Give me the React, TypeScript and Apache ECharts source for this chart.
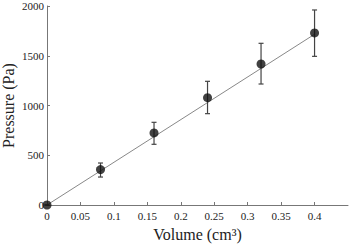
import React, { useEffect, useRef } from "react";
import * as echarts from "echarts";

const volumes = [0, 0.08, 0.16, 0.24, 0.32, 0.4];
const pressures = [0, 356, 724, 1079, 1417, 1729];
const errLow = [0, 281, 610, 918, 1216, 1494];
const errHigh = [0, 422, 831, 1243, 1625, 1960];
const fitX = [0, 0.4];
const fitY = [0, 1716];
const xTicksMax = 0.45;
const yTicksMax = 2000;

const FONT = "Liberation Serif";

export default function App() {
  const ref = useRef<HTMLDivElement>(null);
  useEffect(() => {
    if (!ref.current) return;
    const chart = echarts.init(ref.current, null, { renderer: "svg" });
    const axisLine = { lineStyle: { color: "#777", width: 1 } };
    chart.setOption({
      animation: false,
      backgroundColor: "#fff",
      grid: { left: 47, right: 2, top: 6, bottom: 40, containLabel: false, outerBoundsMode: "none" },
      xAxis: {
        type: "value",
        min: 0,
        max: xTicksMax,
        interval: 0.05,
        splitLine: { show: false },
        axisLine,
        axisTick: { inside: true, length: 3, lineStyle: { color: "#777" } },
        axisLabel: {
          fontFamily: FONT,
          fontSize: 11,
          color: "#222",
          margin: 5,
          showMaxLabel: false,
          formatter: (v: number) => (v > 0.44 ? "" : String(+v.toFixed(2))),
        },
        name: "Volume (cm³)",
        nameLocation: "middle",
        nameGap: 21,
        nameMoveOverlap: false,
        nameTextStyle: { fontFamily: FONT, fontSize: 16, color: "#222" },
      },
      yAxis: {
        type: "value",
        min: 0,
        max: yTicksMax,
        interval: 500,
        splitLine: { show: false },
        axisLine: { show: true, ...axisLine },
        axisTick: { show: true, inside: true, length: 3, lineStyle: { color: "#777" } },
        axisLabel: {
          fontFamily: FONT,
          fontSize: 11,
          color: "#222",
          margin: 3,
          formatter: (v: number) => String(v),
        },
        name: "Pressure (Pa)",
        nameLocation: "middle",
        nameGap: 31,
        nameMoveOverlap: false,
        nameTextStyle: { fontFamily: FONT, fontSize: 16, color: "#222", lineHeight: 16 },
      },
      series: [
        {
          type: "line",
          data: fitX.map((x, i) => [x, fitY[i]]),
          showSymbol: false,
          symbol: "none",
          lineStyle: { color: "#888", width: 1 },
          z: 1,
        },
        {
          type: "custom",
          data: volumes.map((x, i) => [x, errLow[i], errHigh[i]]),
          renderItem: (params: any, api: any) => {
            const x = api.value(0);
            const lo = api.coord([x, api.value(1)]);
            const hi = api.coord([x, api.value(2)]);
            const hw = 2.5;
            const style = { stroke: "#444", lineWidth: 1.2 };
            return {
              type: "group",
              children: [
                { type: "line", shape: { x1: lo[0], y1: lo[1], x2: hi[0], y2: hi[1] }, style },
                { type: "line", shape: { x1: lo[0] - hw, y1: lo[1], x2: lo[0] + hw, y2: lo[1] }, style },
                { type: "line", shape: { x1: hi[0] - hw, y1: hi[1], x2: hi[0] + hw, y2: hi[1] }, style },
              ],
            };
          },
          z: 2,
        },
        {
          type: "scatter",
          data: volumes.map((x, i) => [x, pressures[i]]),
          symbol: "circle",
          symbolSize: 9,
          itemStyle: { color: "#111" },
          z: 3,
        },
      ],
    });
    return () => chart.dispose();
  }, []);
  return <div ref={ref} style={{ width: 350, height: 245, position: "absolute", left: 0, top: 0 }} />;
}
